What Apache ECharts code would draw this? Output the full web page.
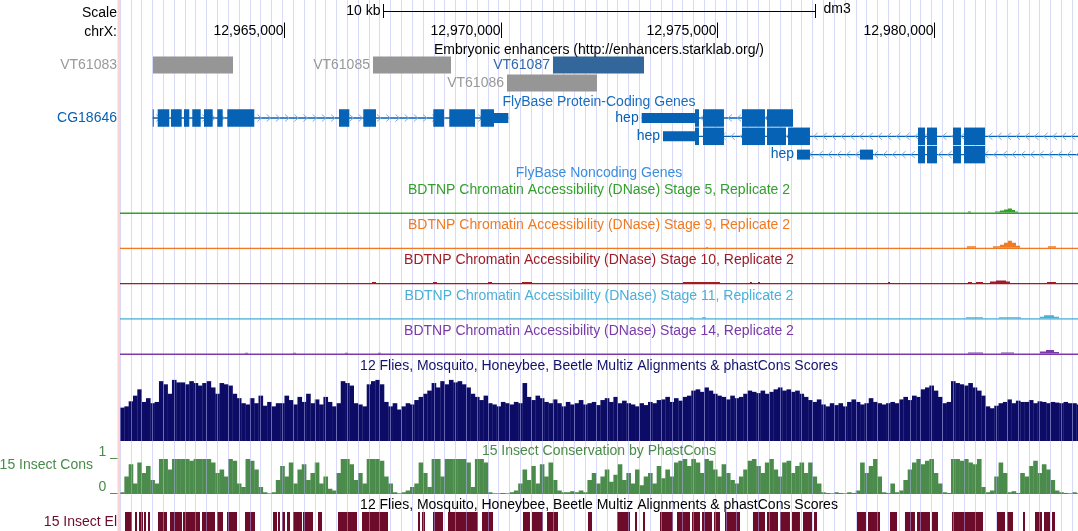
<!DOCTYPE html>
<html><head><meta charset="utf-8">
<script src="https://cdn.jsdelivr.net/npm/echarts@6/dist/echarts.min.js"></script>
<style>html,body{margin:0;padding:0;background:#fff}#c{width:1078px;height:531px}</style>
</head><body><div id="c"></div>
<script>
// ================= DATA =================
const assembly = 'dm3';
const chromName = 'chrX';
const viewStart = 12961200;
const viewEnd = 12983335;
const rulerTicks = [12965000, 12970000, 12975000, 12980000];
const scaleBarBp = 10000;
const guideStepBp = 250;

const trackTitleText = [
  'Embryonic enhancers (http://enhancers.starklab.org/)',
  'FlyBase Protein-Coding Genes',
  'FlyBase Noncoding Genes',
  'BDTNP Chromatin Accessibility (DNase) Stage 5, Replicate 2',
  'BDTNP Chromatin Accessibility (DNase) Stage 9, Replicate 2',
  'BDTNP Chromatin Accessibility (DNase) Stage 10, Replicate 2',
  'BDTNP Chromatin Accessibility (DNase) Stage 11, Replicate 2',
  'BDTNP Chromatin Accessibility (DNase) Stage 14, Replicate 2',
  '12 Flies, Mosquito, Honeybee, Beetle Multiz Alignments & phastCons Scores',
  '15 Insect Conservation by PhastCons',
  '12 Flies, Mosquito, Honeybee, Beetle Multiz Alignments & phastCons Scores'
];

const enhancerNames  = ['VT61083', 'VT61085', 'VT61086', 'VT61087'];
const enhancerStarts = [12961962, 12967045, 12970142, 12971204];
const enhancerEnds   = [12963811, 12968848, 12972221, 12973307];
const enhancerActive = [0, 0, 0, 1];

const geneNames    = ['CG18646', 'hep', 'hep', 'hep'];
const geneStrands  = ['+', '-', '-', '-'];
const geneTxStarts = [12961956, 12973254, 12973746, 12976842];
const geneTxEnds   = [12970172, 12976750, 12985000, 12985000];
const geneCdsStarts = [12961956, 12974485, 12974485, 12979638];
const geneCdsEnds   = [12969841, 12976750, 12981186, 12981186];
const geneExons = [
  [[12961956,12961980],[12962071,12962339],[12962378,12962626],[12962679,12962801],[12962870,12963065],[12963141,12963342],
   [12963448,12963573],[12963679,12964303],[12966260,12966498],[12966821,12967115],[12968439,12968686],
   [12968808,12969402],[12969534,12970172]],
  [[12973254,12974578],[12974670,12975155],[12975571,12976103],[12976149,12976750]],
  [[12973746,12974578],[12974670,12975155],[12975571,12976103],[12976149,12976588],[12976634,12977142],
   [12979638,12979800],[12979846,12980077],[12980446,12980631],[12980701,12981186]],
  [[12976842,12977142],[12978298,12978598],[12979638,12979800],[12979846,12980077],[12980446,12980631],[12980701,12981186]]
];

// DNase signal: [start, end, value]
const dnaseStage5 = [[12980793,12980862,1],[12981417,12981532,1],[12981532,12981625,2],[12981625,12981717,3],
  [12981717,12981809,4],[12981809,12981879,2.5],[12981879,12981948,1]];
const dnaseStage9 = [[12974740,12974786,0.6],[12980770,12980978,1.5],[12981371,12981532,1.5],[12981532,12981625,3],
  [12981625,12981717,5],[12981717,12981809,7],[12981809,12981902,5],[12981902,12981995,2],[12982641,12982826,1.5]];
const dnaseStage10 = [[12967022,12967115,1],[12968432,12968524,1],[12969703,12969795,1],[12970488,12970719,1],
  [12974208,12974601,1],[12974601,12975063,0.8],[12975756,12975802,0.8],[12975941,12975987,0.8],[12978945,12978991,0.8],
  [12980793,12980885,0.8],[12980978,12981140,0.8],[12981301,12981440,1.5],[12981440,12981671,2.5],[12981671,12981763,1.5],
  [12982618,12982826,1]];
const dnaseStage11 = [[12974370,12974439,0.8],[12974647,12974740,1],[12980747,12981140,1],[12981509,12982018,1],
  [12982457,12982549,1.5],[12982549,12982780,3],[12982780,12982896,1.5]];
const dnaseStage14 = [[12964088,12964157,0.7],[12965197,12965266,0.7],[12966399,12966468,0.7],[12967161,12967230,0.7],
  [12980793,12981140,1],[12981556,12981856,1],[12982457,12982595,2],[12982595,12982780,3.5],[12982780,12982896,1.5]];

// fixed-step wiggle (step 100 bp from consStart)
const consStart = 12961200;
const consStep = 100;
const multizScores = [
  0.53,0.55,0.63,0.72,0.82,0.62,0.68,0.6,0.62,
  0.95,0.9,0.75, 0.97,0.93, 0.93,0.9,0.95,0.92,0.88, 0.92,0.95,0.85, 0.75,
  0.92,0.9,0.88, 0.75,0.68,0.6, 0.58,0.68,0.6,0.72,0.56,0.62,0.55,0.6,
  0.6,0.72,0.65,0.58,0.7,0.62,0.75,0.6,0.66,0.58,0.7,0.62,0.55,0.6,
  0.95,0.92,0.88, 0.6,0.58,0.55, 0.9,0.95,0.97,0.9, 0.62,0.55,0.6,0.5,
  0.55,0.6,0.58,0.65,0.7,0.75, 0.8,0.92,0.85, 0.95,0.9,0.97,0.93,0.95,0.9,0.85,
  0.75,0.7,0.65,0.72, 0.6,0.58,0.55,0.62,0.6,0.58, 0.62,0.6,0.92,
  0.7,0.65,0.72,0.68,0.62,0.6,0.66, 0.6,0.55,0.62,0.58,0.6,0.65,0.58,0.6,0.62,0.57,
  0.65,0.68,0.62,0.7,0.6,0.64,0.6, 0.58,0.55,0.6,0.57,0.62,0.6,0.65,
  0.66,0.7,0.62,0.68,0.64,0.7,0.72, 0.8,0.82,0.78,0.85,0.8,0.75,0.72,
  0.7,0.66,0.72,0.68,0.7,0.75, 0.8,0.78,0.76,0.8,0.75,0.78,0.82, 0.85,0.8,0.82,0.78,0.8,0.75,
  0.7,0.65,0.62,0.66, 0.58,0.55,0.6,0.57,0.6,0.55,0.62, 0.66,0.62,0.58,0.6,0.68,0.62,0.6,
  0.58,0.6,0.62,0.6,0.66, 0.7,0.65,0.72,0.7, 0.82,0.85,0.88,0.8,0.7, 0.6,0.62,
  0.95,0.92,0.9,0.88,0.92,0.85,0.8,0.72, 0.55,0.52,0.56,0.6, 0.62,0.66,0.6,0.64,0.62,
  0.62,0.65,0.6,0.63,0.62,0.6,0.62,0.61,0.6,0.62,0.6,0.6,0.58
];
const phastConsScores = [
  0.05,0.5,0.85,0.3,0.9,0.6,0.8,0.4,0.3,
  1,1,0.7, 1,1, 1,1,0.95,1,1, 1,1,0.9, 0.6,
  0.7,0.5,1,0.95,0.3,0.2, 1,0.95,0.7, 0.2,0.05,0.02,0.05,
  0.4,0.8,0.5,0.9,0.3,0.7,0.85,0.4,0.6,0.9,0.3,0.5,0.15,0.1,0.6,
  1,1,0.85, 0.4,0.6,0.3, 1,1,1,0.95, 0.5,0.3,0.05,0.02,
  0.05,0.1,0.2,0.3,0.9, 0.6,0.2,1, 1,0.5,1,1,1,1,1,0.9,
  0.2,1,1,0.9, 0.05,0.02,0.02,0.03,0.02,0.05,0.1,0.3,
  0.7,0.4,0.8,0.3,0.85,0.5,0.9,0.4, 0.1,0.05,0.05,0.08,0.05,0.1,0.05,
  0.4,0.6,0.3,0.5,0.7,0.35,0.55, 0.85,0.4,0.6,0.3,0.7,0.25,0.5,0.6,0.3,0.8,0.45,0.7,
  0.5,0.9,0.95,1,0.8,1,0.9,0.6,1,0.95,0.7,0.5,0.85,0.6,0.4,
  0.3,0.5,0.7,0.95,1,0.8,0.6,0.9,1,0.7,0.5,0.9,0.95,0.6,0.8,0.9,
  0.6,0.9,0.5,0.3, 0.05,0.03,0.02,0.05,0.03,0.02,0.05,0.03,0.1,
  0.9,0.6,0.8,1,0.5, 0.05,0.03,0.3,0.05,0.1,0.4,
  0.7,0.9,1,0.85,0.95,1,0.6,0.3, 0.05,0.03,
  1,1,0.95,1,0.9,0.85,1, 0.2,0.05,0.1, 0.5,0.9,0.6, 0.05,0.08,0.03,
  0.6,0.5,0.8,0.95,0.6,0.85,0.7,0.4, 0.1,0.05,0.03,0.02,0.05,0.02
];
const consElements = [
  [12961316,12961477],[12961547,12961593],[12961639,12961731],[12961755,12961801],[12961847,12961893],
  [12962078,12962286],[12962355,12962633],[12962656,12963048],[12963095,12963395],[12963441,12963580],
  [12963672,12963903],[12964088,12964319],[12964735,12964827],[12964851,12964897],[12964943,12965012],
  [12965059,12965128],[12965197,12965405],[12965428,12965659],[12965775,12965867],[12966237,12966676],
  [12966791,12967392],[12968085,12968132],[12968178,12968247],[12968432,12968663],[12968778,12969472],
  [12969564,12969818],[12970511,12970673],[12970719,12970973],[12971066,12971320],[12972013,12972106],
  [12972683,12972984],[12973099,12973145],[12973284,12973330],[12973677,12973977],[12974070,12974370],
  [12974416,12974601],[12974647,12974878],[12974924,12975063],[12975179,12975525],[12975825,12976103],
  [12976149,12976403],[12976449,12976680],[12976727,12976911],[12976981,12977189],[12977235,12977304],
  [12978228,12978436],[12978483,12978760],[12978991,12979153],[12979337,12979568],[12979615,12979915],
  [12979961,12980100],[12980423,12981140],[12981463,12981648],[12981694,12981833],[12982064,12982110],
  [12982341,12982503],[12982549,12982688],[12982734,12982803]
];

// ================= LAYOUT / STYLE =================
const L = 120, W = 958, H = 531;
const FONT = '"Liberation Sans", Arial, Helvetica, sans-serif';
const FS = 14;
const GENE_COLOR = '#0662b4';
const ARROW_COLOR = '#7eaee2';
const dnaseColors = ['#33a02c', '#f07a22', '#a01c24', '#4ab0d8', '#7a3aa8'];
const dnaseBase = [214, 249.2, 284.4, 319.8, 355];
const dnaseData = [dnaseStage5, dnaseStage9, dnaseStage10, dnaseStage11, dnaseStage14];
const titleY = [50, 101.7, 173.3, 190, 225.4, 260.6, 295.8, 331, 366, 450.7, 505];
const titleColor = ['#000', '#1a6cc0', '#3a8ee0', dnaseColors[0], dnaseColors[1], dnaseColors[2], dnaseColors[3], dnaseColors[4], '#12126c', '#4a8a4a', '#000'];
const OVERLAY_TOP = 372;

const ctx = document.createElement('canvas').getContext('2d');
ctx.font = FS + 'px ' + FONT;
const tw = s => ctx.measureText(s).width;
const pxOf = bp => L + (bp - viewStart) / (viewEnd - viewStart) * W;

// greedy packing with labels
function pack(starts, ends, names) {
  const rowsEnd = [], rowOf = [];
  const order = starts.map((s, i) => i).sort((a, b) => starts[a] - starts[b]);
  order.forEach(i => {
    let left = pxOf(starts[i]) - 3 - tw(names[i]);
    if (left < L) left = pxOf(starts[i]);
    const right = Math.min(pxOf(ends[i]), L + W + 50);
    let r = 0;
    while (rowsEnd[r] !== undefined && rowsEnd[r] + 2 > left) r++;
    rowsEnd[r] = right; rowOf[i] = r;
  });
  return rowOf;
}
const enhRow = pack(enhancerStarts, enhancerEnds, enhancerNames);
const geneRow = pack(geneTxStarts, geneTxEnds, geneNames);

function label(x, y, text, color, align) {
  return {type: 'text', x: x, y: y, z: 100, style: {text: text, fill: color, fontSize: FS, fontFamily: FONT, align: align || 'right', verticalAlign: 'middle'}};
}

const grids = [
  {left: L, width: W, top: 0, height: OVERLAY_TOP},   // 0 guides (under)
  {left: L, width: W, top: 0, height: 170},           // 1 ruler / enhancers / genes
];
dnaseBase.forEach(b => grids.push({left: L, width: W, top: b - 20, height: 20})); // 2..6
grids.push({left: L, width: W, top: 378, height: 63});  // 7 multiz
grids.push({left: L, width: W, top: 459, height: 35});  // 8 phastCons
grids.push({left: L, width: W, top: 512, height: 19});  // 9 elements
grids.push({left: L, width: W, top: OVERLAY_TOP, height: H - OVERLAY_TOP}); // 10 guides (overlay)

const guideAxis = (gi, z, color) => ({
  gridIndex: gi, type: 'value', min: 0, max: viewEnd - viewStart, interval: guideStepBp, z: z,
  axisLine: {show: false}, axisTick: {show: false}, axisLabel: {show: false},
  splitLine: {show: true, lineStyle: {color: color, width: 1}}
});
const xAxes = [guideAxis(0, 0, '#d9d9f8')];
const yAxes = [{gridIndex: 0, min: 0, max: 1, show: false}];
for (let g = 1; g <= 9; g++) {
  xAxes.push({
    gridIndex: g, type: 'value', min: viewStart, max: viewEnd,
    axisLine: {show: false}, axisTick: {show: false}, axisLabel: {show: false}, splitLine: {show: false}
  });
}
xAxes.push(guideAxis(10, 90, 'rgba(178,178,242,0.5)'));
yAxes.push({gridIndex: 1, type: 'value', min: 0, max: 170, inverse: true, show: false});
for (let g = 2; g <= 6; g++) yAxes.push({gridIndex: g, type: 'value', min: 0, max: 20, show: false});
yAxes.push({gridIndex: 7, type: 'value', min: 0, max: 1, show: false});
yAxes.push({gridIndex: 8, type: 'value', min: 0, max: 1, interval: 1,
  axisLine: {show: false}, axisTick: {show: false}, splitLine: {show: false},
  axisLabel: {show: true, formatter: v => v + ' _', verticalAlign: 'bottom', margin: 2, color: '#4a8a4a', fontSize: FS, fontFamily: FONT}});
yAxes.push({gridIndex: 9, type: 'value', min: 0, max: 1, show: false});
yAxes.push({gridIndex: 10, type: 'value', min: 0, max: 1, show: false});

const series = [];

// Ruler
series.push({
  type: 'custom', xAxisIndex: 1, yAxisIndex: 1, clip: false, silent: true, z: 20,
  data: rulerTicks.map(t => [t]),
  renderItem: (p, api) => {
    const x = Math.round(api.coord([api.value(0), 0])[0]) + 0.5;
    return {type: 'group', children: [
      {type: 'line', shape: {x1: x, y1: 22.5, x2: x, y2: 38}, style: {stroke: '#000', lineWidth: 1}},
      label(x - 1, 31.5, api.value(0).toLocaleString('en-US'), '#000', 'right')
    ]};
  }
});
// Scale bar
const viewCenter = (viewStart + viewEnd) / 2;
series.push({
  type: 'custom', xAxisIndex: 1, yAxisIndex: 1, clip: false, silent: true, z: 20,
  data: [[viewCenter - scaleBarBp / 2, viewCenter + scaleBarBp / 2]],
  renderItem: (p, api) => {
    const a = Math.round(api.coord([api.value(0), 0])[0]) + 0.5;
    const b = Math.round(api.coord([api.value(1), 0])[0]) + 0.5;
    const y = 11.5;
    return {type: 'group', children: [
      {type: 'line', shape: {x1: a, y1: y, x2: b, y2: y}, style: {stroke: '#000', lineWidth: 1}},
      {type: 'line', shape: {x1: a, y1: 4, x2: a, y2: 18}, style: {stroke: '#000', lineWidth: 1}},
      {type: 'line', shape: {x1: b, y1: 4, x2: b, y2: 18}, style: {stroke: '#000', lineWidth: 1}},
      label(a - 3, 11.5, (scaleBarBp / 1000) + ' kb', '#000', 'right'),
      label(b + 8, 9, assembly, '#000', 'left')
    ]};
  }
});
// Enhancers
series.push({
  type: 'custom', xAxisIndex: 1, yAxisIndex: 1, clip: false, silent: true, z: 20,
  data: enhancerStarts.map((s, i) => [s, enhancerEnds[i], i]),
  renderItem: (p, api) => {
    const i = api.value(2);
    const yc = 65 + enhRow[i] * 18;
    const a = api.coord([api.value(0), yc]), b = api.coord([api.value(1), yc]);
    const fill = enhancerActive[i] ? '#33669a' : '#969696';
    const tcol = enhancerActive[i] ? '#2f66aa' : '#999999';
    let lx = a[0] - 3;
    if (lx - tw(enhancerNames[i]) < L) lx = L - 3;
    return {type: 'group', children: [
      {type: 'rect', shape: {x: a[0], y: a[1] - 8.5, width: b[0] - a[0], height: 17}, style: {fill: fill}},
      label(lx, a[1] + 0.5, enhancerNames[i], tcol, 'right')
    ]};
  }
});
// Genes
series.push({
  type: 'custom', xAxisIndex: 1, yAxisIndex: 1, clip: false, silent: true, z: 20,
  data: geneTxStarts.map((s, i) => [s, geneTxEnds[i], i]),
  renderItem: (p, api) => {
    const i = api.value(2);
    const yc = 118 + geneRow[i] * 18.3;
    const a = api.coord([api.value(0), yc]);
    const x0 = a[0], y0 = a[1];
    const x1 = Math.min(api.coord([api.value(1), yc])[0], L + W + 5);
    const ch = [];
    ch.push({type: 'line', shape: {x1: x0, y1: y0, x2: x1, y2: y0}, style: {stroke: GENE_COLOR, lineWidth: 1.3}});
    const dir = geneStrands[i] === '+' ? 1 : -1;
    for (let x = x0 + 5.5; x < x1 - 3; x += 9.2) {
      ch.push({type: 'polyline', shape: {points: [[x - 2 * dir, y0 - 3.5], [x + 2 * dir, y0], [x - 2 * dir, y0 + 3.5]]},
        style: {stroke: ARROW_COLOR, lineWidth: 1, fill: null}});
    }
    const cs = geneCdsStarts[i], ce = geneCdsEnds[i];
    geneExons[i].forEach(([s, e]) => {
      const parts = [];
      if (s < cs) parts.push([s, Math.min(e, cs), false]);
      if (e > cs && s < ce) parts.push([Math.max(s, cs), Math.min(e, ce), true]);
      if (e > ce) parts.push([Math.max(s, ce), e, false]);
      parts.forEach(([u, v, thick]) => {
        const xa = api.coord([u, yc])[0], xb = api.coord([v, yc])[0];
        const h = thick ? 17.5 : 10;
        ch.push({type: 'rect', shape: {x: xa, y: y0 - h / 2, width: Math.max(1, xb - xa), height: h}, style: {fill: GENE_COLOR}});
      });
    });
    let lx = x0 - 3;
    if (lx - tw(geneNames[i]) < L) lx = L - 3;
    ch.push(label(lx, y0, geneNames[i], GENE_COLOR, 'right'));
    return {type: 'group', children: ch};
  }
});
// DNase tracks (baseline + signal)
dnaseData.forEach((arr, k) => {
  series.push({
    type: 'custom', xAxisIndex: k + 2, yAxisIndex: k + 2, clip: true, silent: true, z: 20,
    data: [[viewStart, viewEnd]],
    renderItem: (p, api) => {
      const a = api.coord([api.value(0), 0]), b = api.coord([api.value(1), 0]);
      return {type: 'rect', shape: {x: a[0], y: a[1] - 1.5, width: b[0] - a[0], height: 1.5}, style: {fill: dnaseColors[k]}};
    }
  });
  series.push({
    type: 'custom', xAxisIndex: k + 2, yAxisIndex: k + 2, clip: true, silent: true, z: 21,
    data: arr,
    renderItem: (p, api) => {
      const a = api.coord([api.value(0), api.value(2)]), b = api.coord([api.value(1), 0]);
      return {type: 'rect', shape: {x: a[0], y: a[1] - 1.5, width: b[0] - a[0], height: b[1] - a[1]}, style: {fill: dnaseColors[k]}};
    }
  });
});
// binned wiggle tracks
function binSeries(scores, gi, color) {
  return {
    type: 'custom', xAxisIndex: gi, yAxisIndex: gi, clip: true, silent: true, z: 20,
    data: scores.map((v, i) => [consStart + i * consStep, consStart + (i + 1) * consStep, v]),
    renderItem: (p, api) => {
      const a = api.coord([api.value(0), api.value(2)]), b = api.coord([api.value(1), 0]);
      return {type: 'rect', shape: {x: a[0], y: a[1], width: b[0] - a[0] + 0.3, height: Math.max(1, b[1] - a[1])}, style: {fill: color}};
    }
  };
}
series.push(binSeries(multizScores, 7, '#0c0c66'));
series.push(binSeries(phastConsScores, 8, '#4b8b4b'));
// conserved elements
series.push({
  type: 'custom', xAxisIndex: 9, yAxisIndex: 9, clip: false, silent: true, z: 20,
  data: consElements,
  renderItem: (p, api) => {
    const a = api.coord([api.value(0), 1]), b = api.coord([api.value(1), 0]);
    return {type: 'rect', shape: {x: a[0], y: a[1], width: Math.max(1, b[0] - a[0]), height: b[1] - a[1] + 2}, style: {fill: '#6d0b2b'}};
  }
});

const graphics = [
  {type: 'rect', shape: {x: 117.5, y: 0, width: 2.5, height: H}, style: {fill: '#fbd3d3'}, z: 100},
  label(117, 12.7, 'Scale', '#000', 'right'),
  label(117, 31.7, chromName + ':', '#000', 'right'),
  label(93, 465, '15 Insect Cons', '#4a8a4a', 'right'),
  label(117, 522.3, '15 Insect El', '#6d0b2b', 'right')
];
trackTitleText.forEach((t, i) => graphics.push(label(L + W / 2, titleY[i], t, titleColor[i], 'center')));

const chart = echarts.init(document.getElementById('c'), null, {renderer: 'canvas'});
chart.setOption({
  animation: false,
  backgroundColor: '#fff',
  grid: grids,
  xAxis: xAxes,
  yAxis: yAxes,
  series: series,
  graphic: graphics
});
</script>
</body></html>
